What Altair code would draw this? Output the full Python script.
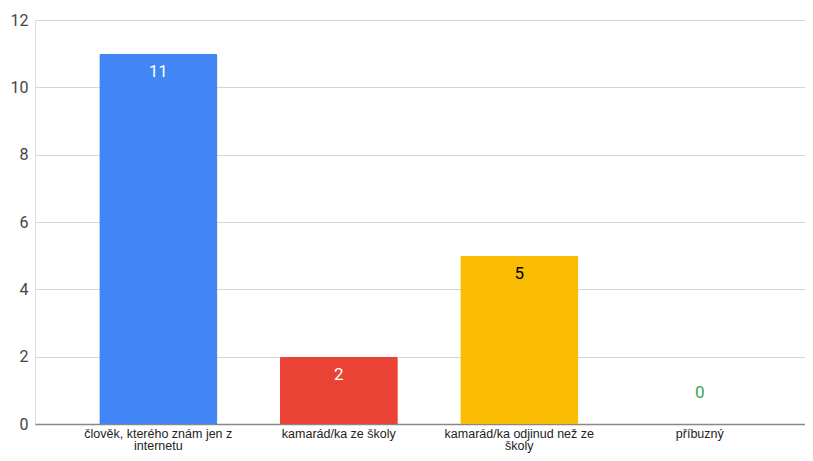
import altair as alt
import pandas as pd

categories = ["člověk, kterého znám jen z internetu", "kamarád/ka ze školy",
              "kamarád/ka odjinud než ze školy", "příbuzný"]
values = [11, 2, 5, 0]
y_ticks = [0, 2, 4, 6, 8, 10, 12]

bar_colors = ["#4285F4", "#EA4335", "#FBBC04", "#34A853"]
label_colors = ["#ffffff", "#ffffff", "#000000", "#34A853"]

df = pd.DataFrame({"cat": categories, "value": values})

label_expr = (
    "datum.label == 'člověk, kterého znám jen z internetu' ? ['člověk, kterého znám jen z', 'internetu'] : "
    "datum.label == 'kamarád/ka odjinud než ze školy' ? ['kamarád/ka odjinud než ze', 'školy'] : datum.label"
)

xscale = alt.Scale(paddingInner=0.346, paddingOuter=0.306, align=0.582)
x = alt.X("cat:N", sort=categories, title=None, scale=xscale,
          axis=alt.Axis(labelAngle=0, labelExpr=label_expr, labelFont="Liberation Sans",
                        labelFontSize=12.5, labelColor="#222222", labelLineHeight=12.5,
                        labelPadding=3, ticks=False, grid=False, domainColor="#888888",
                        domainWidth=1.3, labelLimit=300))
y = alt.Y("value:Q", title=None,
          scale=alt.Scale(domain=[0, 12], nice=False),
          axis=alt.Axis(values=y_ticks, domain=False, ticks=False, labelFont="Roboto",
                        labelFontSize=16, labelColor="#444444", labelPadding=7,
                        gridColor="#d5d5d5", gridWidth=1))

color = alt.Color("cat:N", scale=alt.Scale(domain=categories, range=bar_colors), legend=None)

bars = alt.Chart(df).mark_bar(cornerRadiusTopLeft=2, cornerRadiusTopRight=2).encode(
    x=x, y=y, color=color)

base_text = alt.Chart(df).encode(
    x=alt.X("cat:N", sort=categories, scale=xscale), y="value:Q", text="value:Q")

txt_in = base_text.transform_filter("datum.value > 0").mark_text(
    font="Roboto", fontSize=17, baseline="middle", dy=18).encode(
    color=alt.Color("cat:N", scale=alt.Scale(domain=categories, range=label_colors), legend=None))
txt_zero = base_text.transform_filter("datum.value == 0").mark_text(
    font="Roboto", fontSize=17, baseline="middle", dy=-31).encode(
    color=alt.Color("cat:N", scale=alt.Scale(domain=categories, range=label_colors), legend=None))

chart = alt.layer(bars, txt_in, txt_zero).resolve_scale(color="independent").properties(
    width=770, height=404,
    autosize=alt.AutoSizeParams(type="none"),
    padding={"left": 27, "top": 12, "right": 0, "bottom": 29},
).configure_view(stroke=None).configure_axisX(grid=False).configure(background="white")

chart.save("out.html", embed_options={"renderer": "svg", "actions": False})
